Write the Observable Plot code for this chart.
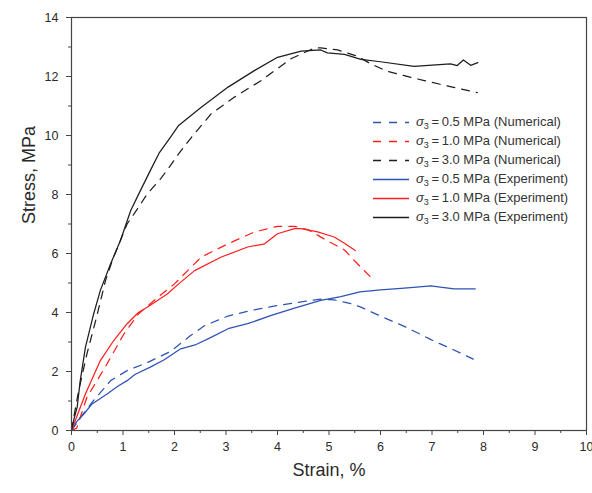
<!DOCTYPE html>
<html>
<head>
<meta charset="utf-8">
<script src="https://cdn.jsdelivr.net/npm/d3@7"></script>
<script src="https://cdn.jsdelivr.net/npm/@observablehq/plot@0.6"></script>
<style>
  body { margin: 0; background: #fff; font-family: "Liberation Sans", Arial, sans-serif; }
  #chart { position: relative; width: 592px; height: 493px; }
  #legend { position: absolute; left: 0; top: 0; width: 592px; height: 493px; pointer-events: none; }
  .row { position: absolute; left: 372px; height: 19px; display: flex; align-items: center; font-size: 13px; color: #333; white-space: nowrap; }
  .row svg { width: 38px; height: 19px; margin-right: 6px; }
  .row sub { font-size: 9px; vertical-align: -3px; }
</style>
</head>
<body>
<div id="chart"></div>
<script>
// ---- data (strain %, stress MPa) ----
const num05Strain = [0, 0.2, 0.43, 0.76, 1.08, 1.47, 1.92, 2.3, 2.58, 3.04, 3.49, 4.0, 4.46, 4.84, 5.1, 5.43, 5.62, 6.1, 6.5, 6.98, 7.4, 7.8];
const num05Stress = [0, 0.5, 1.02, 1.69, 2.03, 2.3, 2.68, 3.2, 3.55, 3.88, 4.07, 4.24, 4.36, 4.45, 4.43, 4.3, 4.18, 3.8, 3.5, 3.08, 2.75, 2.42];

const exp05Strain = [0, 0.1, 0.24, 0.4, 0.69, 0.9, 1.08, 1.23, 1.53, 1.8, 2.12, 2.4, 2.7, 3.04, 3.42, 3.88, 4.33, 4.84, 5.23, 5.6, 6.0, 6.4, 6.7, 6.98, 7.2, 7.43, 7.84];
const exp05Stress = [0, 0.3, 0.56, 0.9, 1.24, 1.5, 1.69, 1.9, 2.15, 2.4, 2.77, 2.9, 3.15, 3.45, 3.62, 3.9, 4.15, 4.41, 4.54, 4.7, 4.77, 4.82, 4.86, 4.9, 4.85, 4.8, 4.8];

const num10Strain = [0, 0.1, 0.3, 0.5, 0.69, 1.02, 1.3, 1.68, 2.0, 2.52, 3.04, 3.55, 4.0, 4.33, 4.6, 4.94, 5.3, 5.52, 5.81];
const num10Stress = [0, 0.08, 1.13, 1.7, 2.26, 3.28, 3.95, 4.52, 4.97, 5.88, 6.33, 6.73, 6.92, 6.92, 6.8, 6.46, 6.12, 5.71, 5.2];

const exp10Strain = [0, 0.05, 0.27, 0.56, 0.82, 1.08, 1.3, 1.47, 1.86, 2.08, 2.39, 2.91, 3.42, 3.75, 4.0, 4.33, 4.46, 4.78, 5.1, 5.3, 5.51];
const exp10Stress = [0, 0.23, 1.24, 2.37, 3.05, 3.62, 4.0, 4.18, 4.63, 4.97, 5.42, 5.88, 6.22, 6.33, 6.67, 6.84, 6.84, 6.73, 6.56, 6.35, 6.1];

const num30Strain = [0, 0.05, 0.14, 0.3, 0.47, 0.66, 0.8, 1.08, 1.28, 1.47, 1.73, 1.92, 2.08, 2.33, 2.71, 3.16, 3.68, 4.26, 4.72, 4.84, 5.17, 5.56, 5.81, 6.14, 6.85, 7.88];
const num30Stress = [0, 0.5, 1.36, 2.6, 3.73, 5.08, 5.8, 7.0, 7.51, 8.02, 8.53, 8.98, 9.38, 9.94, 10.73, 11.3, 11.86, 12.6, 12.97, 12.97, 12.9, 12.68, 12.43, 12.17, 11.86, 11.45];

const exp30Strain = [0, 0.05, 0.11, 0.17, 0.27, 0.43, 0.56, 0.76, 0.95, 1.15, 1.34, 1.53, 1.7, 1.92, 2.08, 2.52, 3.04, 3.55, 4.0, 4.46, 4.84, 4.97, 5.3, 5.62, 6.0, 6.65, 7.36, 7.49, 7.61, 7.75, 7.89];
const exp30Stress = [0, 0.4, 0.79, 1.69, 2.82, 3.95, 4.75, 5.65, 6.44, 7.46, 8.14, 8.81, 9.4, 9.94, 10.34, 10.96, 11.64, 12.2, 12.65, 12.86, 12.9, 12.8, 12.75, 12.58, 12.5, 12.34, 12.43, 12.37, 12.56, 12.38, 12.47];

const seriesLabels = ["0.5 MPa (Numerical)", "1.0 MPa (Numerical)", "3.0 MPa (Numerical)",
                      "0.5 MPa (Experiment)", "1.0 MPa (Experiment)", "3.0 MPa (Experiment)"];
const xTicks = [0, 1, 2, 3, 4, 5, 6, 7, 8, 9, 10];
const xMinor = [0.5, 1.5, 2.5, 3.5, 4.5, 5.5, 6.5, 7.5, 8.5, 9.5];
const yTicks = [0, 2, 4, 6, 8, 10, 12, 14];
const yMinor = [1, 3, 5, 7, 9, 11, 13];

// ---- build ----
const BLUE = "#2f52b5", RED = "#ff1f1f", BLACK = "#1e1e1e";
const series = [
  {label: seriesLabels[0], xs: num05Strain, ys: num05Stress, color: BLUE, dash: "8,7"},
  {label: seriesLabels[1], xs: num10Strain, ys: num10Stress, color: RED, dash: "8,7"},
  {label: seriesLabels[2], xs: num30Strain, ys: num30Stress, color: BLACK, dash: "8,7"},
  {label: seriesLabels[3], xs: exp05Strain, ys: exp05Stress, color: BLUE, dash: null},
  {label: seriesLabels[4], xs: exp10Strain, ys: exp10Stress, color: RED, dash: null},
  {label: seriesLabels[5], xs: exp30Strain, ys: exp30Stress, color: BLACK, dash: null}
];
const toRows = s => s.xs.map((x, i) => ({strain: x, stress: s.ys[i]}));

const lineMarks = series.map(s => Plot.line(toRows(s), {
  x: "strain", y: "stress", stroke: s.color, strokeWidth: 1.25,
  strokeDasharray: s.dash || undefined
}));

const plot = Plot.plot({
  width: 592, height: 493,
  marginLeft: 71, marginRight: 6, marginTop: 17, marginBottom: 63,
  x: {domain: [0, 10]},
  y: {domain: [0, 14]},
  style: {fontFamily: "'Liberation Sans', Arial, sans-serif", fontSize: "12.5px", color: "#2a2a2a", background: "#fff"},
  marks: [
    ...lineMarks,
    Plot.frame({stroke: "#444", strokeWidth: 1.2}),
    Plot.axisX({ticks: xTicks, tickSize: 5, tickPadding: 7, label: null, stroke: "#444"}),
    Plot.axisX({ticks: xMinor, tickSize: 3, text: null, label: null, stroke: "#444"}),
    Plot.axisY({ticks: yTicks, tickSize: 5, tickPadding: 8, label: null, stroke: "#444"}),
    Plot.axisY({ticks: yMinor, tickSize: 3, text: null, label: null, stroke: "#444"}),
    Plot.text(["Strain, %"], {frameAnchor: "bottom", dy: 45, fontSize: 18, fill: "#2a2a2a"}),
    Plot.text(["Stress, MPa"], {frameAnchor: "left", dx: -42, rotate: -90, fontSize: 18, fill: "#2a2a2a"})
  ]
});

const chart = document.getElementById("chart");
chart.appendChild(plot);

// legend overlay
const legend = document.createElement("div");
legend.id = "legend";
const rowTops = [113, 132, 151, 170, 189, 208];
series.forEach((s, i) => {
  const row = document.createElement("div");
  row.className = "row";
  row.style.top = rowTops[i] + "px";
  const dashAttr = s.dash ? `stroke-dasharray="8,8"` : "";
  row.innerHTML =
    `<svg viewBox="0 0 38 19"><line x1="1" x2="37" y1="9.5" y2="9.5" stroke="${s.color}" stroke-width="1.4" ${dashAttr}/></svg>` +
    `<span><i>σ</i><sub>3</sub>\u2009=\u2009${s.label}</span>`;
  legend.appendChild(row);
});
chart.appendChild(legend);
</script>
</body>
</html>
